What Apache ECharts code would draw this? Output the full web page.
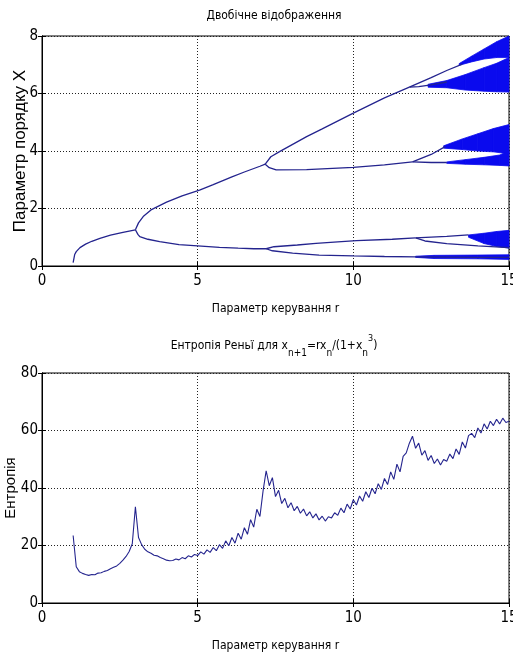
<!DOCTYPE html>
<html>
<head>
<meta charset="utf-8">
<script src="https://cdn.jsdelivr.net/npm/echarts@6/dist/echarts.min.js"></script>
<style>
  html, body { margin: 0; padding: 0; background: #fff; }
  #chart { width: 513px; height: 653px; }
</style>
</head>
<body>
<div id="chart"></div>
<script>
// --- bifurcation branches, [r, x] ---
const fixedBranch = [[1.0,0.12],[1.05,0.4],[1.1,0.5],[1.22,0.64],[1.4,0.76],[1.6,0.86],[1.86,0.96],[2.2,1.07],[2.6,1.17],[3.0,1.26]];
const upper2 = [[3.0,1.26],[3.1,1.5],[3.25,1.72],[3.5,1.95],[4.0,2.22],[4.5,2.44],[5.06,2.64],[5.5,2.83],[6.1,3.1],[6.5,3.27],[7.0,3.47],[7.17,3.54]];
const lower2 = [[3.0,1.26],[3.08,1.1],[3.14,1.02],[3.4,0.93],[3.78,0.85],[4.4,0.74],[5.0,0.7],[5.7,0.65],[6.3,0.62],[6.8,0.6],[7.2,0.6]];
const upper4a = [[7.17,3.54],[7.35,3.8],[7.63,3.98],[8.5,4.5],[9.0,4.77],[10.0,5.32],[11.0,5.85],[11.8,6.22]];
const upper4b = [[7.17,3.54],[7.3,3.42],[7.52,3.34],[8.5,3.35],[10.0,3.43],[11.0,3.52],[11.9,3.62]];
const lower4a = [[7.2,0.6],[7.45,0.67],[8.2,0.73],[8.8,0.79],[9.5,0.84],[10.1,0.88],[11.25,0.93],[12.0,0.98]];
const lower4b = [[7.2,0.6],[7.4,0.53],[8.05,0.45],[8.9,0.38],[10.0,0.35],[11.0,0.33],[12.0,0.32],[13.0,0.31],[14.0,0.3],[15.0,0.3]];
const top8a = [[11.8,6.22],[12.5,6.55],[13.0,6.8],[13.5,7.02]];
const top8b = [[11.8,6.22],[12.1,6.24],[12.5,6.3],[13.0,6.4]];
const mid8a = [[11.9,3.62],[12.5,3.88],[12.95,4.15]];
const mid8b = [[11.9,3.62],[12.5,3.6],[13.0,3.6]];
const low8a = [[12.0,0.98],[13.0,1.03],[13.7,1.08]];
const low8b = [[12.0,0.98],[12.3,0.87],[13.0,0.78],[14.0,0.7],[15.0,0.64]];

// --- chaotic bands, [r, low, high] ---
const bandTopUpper = [[13.4,6.98,7.04],[13.8,7.1,7.3],[14.2,7.2,7.55],[14.6,7.25,7.8],[15.0,7.25,8.0]];
const bandTopLower = [[12.4,6.22,6.32],[13.0,6.2,6.45],[13.6,6.12,6.66],[14.2,6.08,6.9],[14.6,6.06,7.05],[15.0,6.05,7.25]];
const bandMidUpper = [[12.9,4.1,4.18],[13.5,4.05,4.42],[14.0,4.0,4.6],[14.5,3.97,4.78],[15.0,3.9,4.92]];
const bandMidLower = [[13.0,3.57,3.62],[13.6,3.54,3.7],[14.2,3.52,3.78],[14.7,3.5,3.86],[15.0,3.48,4.0]];
const bandLowUpper = [[13.7,1.0,1.08],[14.2,0.78,1.14],[14.6,0.68,1.2],[15.0,0.62,1.24]];
const bandLowBottom = [[12.0,0.3,0.34],[12.6,0.26,0.37],[14.0,0.25,0.38],[15.0,0.23,0.39]];

// --- entropy, r = 1.0 ... 15.0 step 0.1 ---
const entropyValues = [
  23.5, 12.6, 10.9, 10.3, 9.9, 9.6, 9.9, 9.8, 10.4, 10.5,
  11.0, 11.3, 11.9, 12.4, 12.9, 13.8, 14.9, 16.2, 17.9, 20.6,
  33.5, 22.8, 20.3, 18.7, 17.8, 17.3, 16.6, 16.4, 15.8, 15.4,
  14.9, 14.7, 14.8, 15.3, 15.0, 15.8, 15.4, 16.4, 16.0, 16.9,
  16.5, 17.8, 17.0, 18.5, 17.6, 19.3, 18.2, 20.3, 19.0, 21.6,
  19.9, 22.8, 20.8, 24.3, 22.2, 26.2, 23.9, 29.0, 26.4, 32.6,
  30.1, 38.9, 46.0, 40.8, 43.6, 37.0, 39.2, 34.6, 36.4, 33.1,
  34.9, 32.1, 33.6, 31.2, 32.7, 30.3, 31.7, 29.6, 31.0, 28.9,
  30.2, 28.5, 30.0, 29.6, 31.4, 30.5, 33.0, 31.4, 34.4, 32.7,
  35.9, 34.1, 37.2, 35.4, 38.7, 36.7, 39.9, 38.0, 41.5, 39.5,
  43.3, 41.2, 45.6, 43.0, 48.3, 45.6, 51.0, 52.2, 55.6, 58.0,
  53.8, 55.6, 51.4, 53.0, 49.6, 51.3, 48.5, 50.1, 48.0, 49.9,
  49.3, 51.8, 50.2, 53.6, 51.7, 56.0, 53.9, 58.2, 59.0, 57.5,
  60.9, 59.1, 62.3, 60.5, 63.2, 61.7, 63.9, 62.3, 64.3, 62.8,
  63.2
];
const entropyR = entropyValues.map((_, i) => +(1 + i * 0.1).toFixed(1));

const LINE = '#24248e';
const FILL = '#0a0aee';
const narrow = "'Liberation Sans Narrow', 'DejaVu Sans Condensed', sans-serif";
const plain = "'Liberation Sans', Arial, sans-serif";

const chart = echarts.init(document.getElementById('chart'));

const branches = [fixedBranch, upper2, lower2, upper4a, upper4b, lower4a, lower4b,
  top8a, top8b, mid8a, mid8b, low8a, low8b];
const bands = [bandTopUpper, bandTopLower, bandMidUpper, bandMidLower, bandLowUpper, bandLowBottom];

// band -> quads between neighbouring samples
const quads = [];
bands.forEach(b => {
  for (let i = 0; i < b.length - 1; i++) {
    quads.push([b[i][0], b[i][1], b[i][2], b[i + 1][0], b[i + 1][1], b[i + 1][2]]);
  }
});

function bandItem(params, api) {
  const a = api.coord([api.value(0), api.value(1)]);
  const b = api.coord([api.value(0), api.value(2)]);
  const c = api.coord([api.value(3), api.value(5)]);
  const d = api.coord([api.value(3), api.value(4)]);
  return {
    type: 'polygon',
    shape: { points: [a, b, c, d] },
    style: { fill: FILL, stroke: FILL, lineWidth: 0.8 }
  };
}

function mainX(gridIndex) {
  return {
    gridIndex: gridIndex, type: 'value', min: 0, max: 15, interval: 5,
    name: 'Параметр керування r', nameLocation: 'middle', nameGap: 37, nameMoveOverlap: false,
    nameTextStyle: { fontFamily: narrow, fontSize: 12, color: '#000' },
    axisLine: { lineStyle: { color: '#000' } },
    axisTick: { inside: true, length: 4, lineStyle: { color: '#000' } },
    axisLabel: { fontFamily: narrow, fontSize: 15, color: '#000', margin: 8 },
    splitLine: { show: true, lineStyle: { color: '#222', type: [1, 2] } }
  };
}
function boxX(gridIndex) {
  return {
    gridIndex: gridIndex, type: 'value', position: 'top', min: 0, max: 15, interval: 5,
    axisLine: { lineStyle: { color: '#000' } },
    axisTick: { inside: true, length: 4, lineStyle: { color: '#000' } },
    axisLabel: { show: false }, splitLine: { show: false }
  };
}
function mainY(gridIndex, max, interval, name, size, gap) {
  return {
    gridIndex: gridIndex, type: 'value', min: 0, max: max, interval: interval,
    name: name, nameLocation: 'middle', nameGap: gap, nameMoveOverlap: false,
    nameTextStyle: { fontFamily: plain, fontSize: size, color: '#000' },
    axisLine: { show: true, lineStyle: { color: '#000' } },
    axisTick: { show: true, inside: true, length: 4, lineStyle: { color: '#000' } },
    axisLabel: { fontFamily: narrow, fontSize: 15, color: '#000', margin: 4 },
    splitLine: { show: true, lineStyle: { color: '#222', type: [1, 2] } }
  };
}
function boxY(gridIndex, max, interval) {
  return {
    gridIndex: gridIndex, type: 'value', position: 'right', min: 0, max: max, interval: interval,
    axisLine: { show: true, lineStyle: { color: '#000' } },
    axisTick: { show: true, inside: true, length: 4, lineStyle: { color: '#000' } },
    axisLabel: { show: false }, splitLine: { show: false }
  };
}

const series = branches.map(br => ({
  type: 'line', xAxisIndex: 0, yAxisIndex: 0, data: br,
  showSymbol: false, symbol: 'none', silent: true,
  lineStyle: { color: LINE, width: 1.3 }
}));
series.push({
  type: 'custom', xAxisIndex: 0, yAxisIndex: 0, data: quads,
  renderItem: bandItem, encode: { x: [0, 3], y: [1, 2, 4, 5] }, silent: true
});
series.push({
  type: 'line', xAxisIndex: 2, yAxisIndex: 2,
  data: entropyR.map((r, i) => [r, entropyValues[i]]),
  showSymbol: false, symbol: 'none', silent: true,
  lineStyle: { color: LINE, width: 1.1 }
});

const option = {
  animation: false,
  backgroundColor: '#fff',
  title: [
    {
      text: 'Двобічне відображення', left: 274, top: 10, textAlign: 'center', padding: 0,
      textStyle: { fontFamily: narrow, fontSize: 12, fontWeight: 'normal', color: '#000' }
    },
    {
      text: 'Ентропія Реньї для x{sub|n+1}=rx{sub|n}/(1+x{sub|n}{sup|3})',
      left: 274, top: 334, textAlign: 'center', padding: 0,
      textStyle: {
        fontFamily: narrow, fontSize: 12, fontWeight: 'normal', color: '#000', lineHeight: 24,
        rich: {
          sub: { fontFamily: narrow, fontSize: 10, color: '#000', verticalAlign: 'bottom', lineHeight: 24 },
          sup: { fontFamily: narrow, fontSize: 9, color: '#000', verticalAlign: 'top', lineHeight: 24 }
        }
      }
    }
  ],
  grid: [
    { left: 42, right: 4, top: 36, height: 230, show: true, borderColor: '#000', borderWidth: 1,
      outerBoundsMode: 'none', containLabel: false },
    { left: 42, right: 4, top: 373, height: 230, show: true, borderColor: '#000', borderWidth: 1,
      outerBoundsMode: 'none', containLabel: false }
  ],
  xAxis: [mainX(0), boxX(0), mainX(1), boxX(1)],
  yAxis: [
    mainY(0, 8, 2, 'Параметр порядку X', 17, 13),
    boxY(0, 8, 2),
    mainY(1, 80, 20, 'Ентропія', 15, 24),
    boxY(1, 80, 20)
  ],
  series: series
};
chart.setOption(option);
</script>
</body>
</html>
